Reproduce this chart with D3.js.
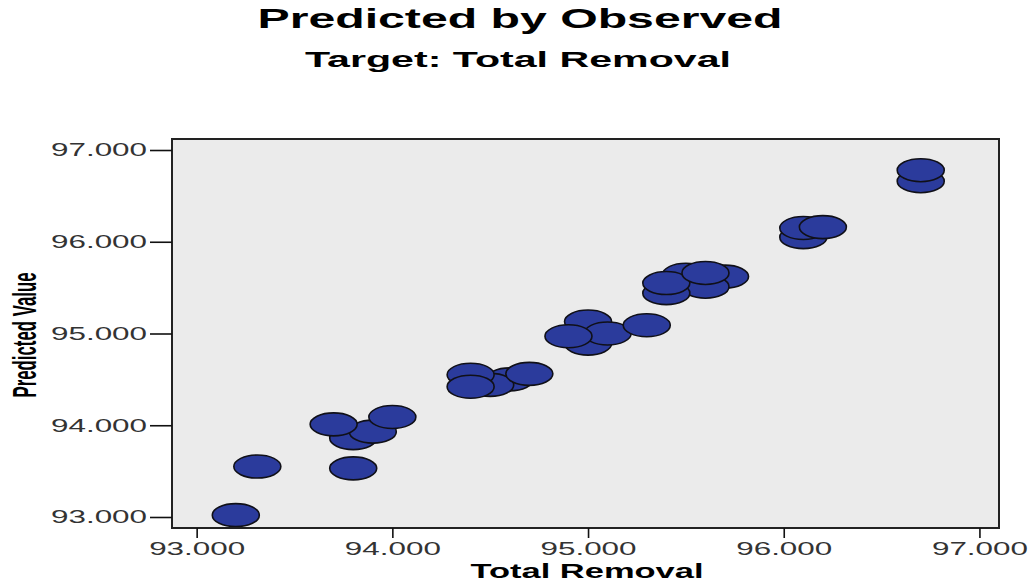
<!DOCTYPE html>
<html>
<head>
<meta charset="utf-8">
<script src="https://cdn.jsdelivr.net/npm/d3@7"></script>
<style>
  html, body { margin: 0; padding: 0; background: #fff; }
  svg { display: block; }
  text { font-family: "Liberation Sans", Arial, sans-serif; }
</style>
</head>
<body>
<svg id="chart" width="1029" height="583"></svg>
<script>
// Observed target values (Total Removal), in drawing order
const observed = [
  93.2, 93.31, 93.8,
  93.8, 93.9, 93.7, 94.0,
  94.6, 94.5, 94.4, 94.4, 94.7,
  95.0, 95.0, 95.1, 94.9, 95.3,
  95.5, 95.7, 95.6, 95.4, 95.4, 95.6,
  96.1, 96.1, 96.2,
  96.7, 96.7
];
// Model predicted values, paired with observed
const predicted = [
  93.02, 93.55, 93.53,
  93.86, 93.93, 94.01, 94.09,
  94.50, 94.44, 94.55, 94.42, 94.56,
  95.13, 94.89, 95.00, 94.97, 95.09,
  95.64, 95.62, 95.51, 95.44, 95.55, 95.66,
  96.05, 96.15, 96.16,
  96.66, 96.78
];
const xTicks = [93, 94, 95, 96, 97];
const yTicks = [93, 94, 95, 96, 97];
const titleText = "Predicted by Observed";
const subtitleText = "Target: Total Removal";
const xTitle = "Total Removal";
const yTitle = "Predicted Value";

const svg = d3.select("#chart");
const plot = { left: 172, right: 999, top: 139, bottom: 528 };

const x = d3.scaleLinear().domain([92.874, 97.1]).range([plot.left, plot.right]);
const y = d3.scaleLinear().domain([92.88, 97.12]).range([plot.bottom, plot.top]);

// Titles
svg.append("text")
  .attr("x", 520).attr("y", 28)
  .attr("text-anchor", "middle")
  .attr("font-size", 27).attr("font-weight", "bold")
  .attr("textLength", 525).attr("lengthAdjust", "spacingAndGlyphs")
  .attr("fill", "#000")
  .text(titleText);

svg.append("text")
  .attr("x", 518).attr("y", 67)
  .attr("text-anchor", "middle")
  .attr("font-size", 22).attr("font-weight", "bold")
  .attr("textLength", 426).attr("lengthAdjust", "spacingAndGlyphs")
  .attr("fill", "#000")
  .text(subtitleText);

// Plot background
svg.append("rect")
  .attr("x", plot.left).attr("y", plot.top)
  .attr("width", plot.right - plot.left).attr("height", plot.bottom - plot.top)
  .attr("fill", "#ebebeb");

// Points
const pts = observed.map((o, i) => ({ o, p: predicted[i] }));
svg.append("g")
  .selectAll("ellipse")
  .data(pts)
  .join("ellipse")
  .attr("cx", d => x(d.o))
  .attr("cy", d => y(d.p))
  .attr("rx", 23.5)
  .attr("ry", 11.5)
  .attr("fill", "#2b3b9c")
  .attr("stroke", "#101018")
  .attr("stroke-width", 1.6);

// Frame
svg.append("rect")
  .attr("x", plot.left).attr("y", plot.top)
  .attr("width", plot.right - plot.left).attr("height", plot.bottom - plot.top)
  .attr("fill", "none")
  .attr("stroke", "#222")
  .attr("stroke-width", 2);

// Axes
const fmt = d3.format(".3f");
const yAxis = svg.append("g")
  .attr("transform", `translate(${plot.left},0)`)
  .call(d3.axisLeft(y).tickValues(yTicks).tickFormat(fmt).tickSize(22).tickPadding(3));
yAxis.select(".domain").remove();
yAxis.selectAll(".tick line").attr("stroke", "#111").attr("stroke-width", 1.6);
yAxis.selectAll(".tick text")
  .attr("font-size", 18).attr("fill", "#333")
  .attr("font-family", "Liberation Sans, Arial, sans-serif")
  .attr("textLength", 96).attr("lengthAdjust", "spacingAndGlyphs");

const xAxis = svg.append("g")
  .attr("transform", `translate(0,${plot.bottom})`)
  .call(d3.axisBottom(x).tickValues(xTicks).tickFormat(fmt).tickSize(10).tickPadding(4));
xAxis.select(".domain").remove();
xAxis.selectAll(".tick line").attr("stroke", "#111").attr("stroke-width", 1.6);
xAxis.selectAll(".tick text")
  .attr("font-size", 18).attr("fill", "#333")
  .attr("font-family", "Liberation Sans, Arial, sans-serif")
  .attr("textLength", 96).attr("lengthAdjust", "spacingAndGlyphs");

// Axis titles
svg.append("text")
  .attr("x", 587).attr("y", 578)
  .attr("text-anchor", "middle")
  .attr("font-size", 20).attr("font-weight", "bold")
  .attr("textLength", 233).attr("lengthAdjust", "spacingAndGlyphs")
  .attr("fill", "#000")
  .text(xTitle);

svg.append("text")
  .attr("transform", "translate(36,335) rotate(-90)")
  .attr("text-anchor", "middle")
  .attr("font-size", 33).attr("font-weight", "bold")
  .attr("textLength", 125).attr("lengthAdjust", "spacingAndGlyphs")
  .attr("fill", "#000")
  .text(yTitle);
</script>
</body>
</html>
